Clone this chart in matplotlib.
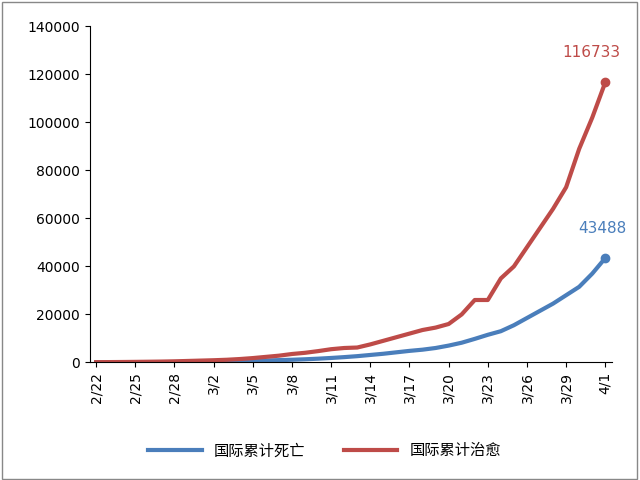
import matplotlib
matplotlib.use("Agg")
import matplotlib.pyplot as plt
import datetime as dt

plt.rcParams['font.family'] = ['DejaVu Sans', 'Noto Sans CJK SC']

start = dt.date(2020, 2, 22)
dates = [start + dt.timedelta(days=i) for i in range(40)]
labels = [f"{d.month}/{d.day}" for d in dates]

deaths = [20, 30, 40, 60, 80, 110, 150, 200, 260, 330,
          420, 520, 650, 800, 950, 1100, 1300, 1550, 1850, 2200,
          2600, 3100, 3600, 4200, 4800, 5300, 6000, 7000, 8200, 9800,
          11500, 13000, 15500, 18500, 21500, 24500, 28000, 31500, 37000, 43488]
recovered = [100, 130, 170, 220, 280, 350, 450, 600, 750, 900,
             1100, 1400, 1800, 2300, 2800, 3500, 4000, 4700, 5500, 6000,
             6200, 7500, 9000, 10500, 12000, 13500, 14500, 16000, 20000, 26000,
             26000, 35000, 40000, 48000, 56000, 64000, 73000, 89000, 102000, 116733]

fig = plt.figure(figsize=(6.4, 4.8), dpi=100)
ax = fig.add_axes([0.14, 0.245, 0.816, 0.70])
x = list(range(len(dates)))
blue = '#4a7ebb'
red = '#be4b48'
ax.plot(x, deaths, color=blue, lw=3, label='国际累计死亡')
ax.plot(x, recovered, color=red, lw=3, label='国际累计治愈')
ax.plot(x[-1], deaths[-1], 'o', color=blue, ms=6)
ax.plot(x[-1], recovered[-1], 'o', color=red, ms=6)
ax.annotate(str(deaths[-1]), (x[-1], deaths[-1]), xytext=(-2, 18), textcoords='offset points',
            ha='center', color=blue, fontsize=11)
ax.annotate(str(recovered[-1]), (x[-1], recovered[-1]), xytext=(-10, 18), textcoords='offset points',
            ha='center', color=red, fontsize=11)
ax.set_ylim(0, 140000)
ax.set_yticks(range(0, 140001, 20000))
ax.set_xlim(-0.5, 39.5)
ax.set_xticks(x[::3])
ax.set_xticklabels(labels[::3], rotation=90)
ax.tick_params(labelsize=10)
for s in ['top', 'right']:
    ax.spines[s].set_visible(False)
ax.legend(loc='upper center', bbox_to_anchor=(0.45, -0.2), ncol=2, frameon=False, fontsize=11,
          handlelength=3.5, columnspacing=2.5)
fig.patches.append(plt.Rectangle((0.003, 0.003), 0.992, 0.992, transform=fig.transFigure,
                                 fill=False, edgecolor='#888888', lw=1))
fig.savefig('out.png')
